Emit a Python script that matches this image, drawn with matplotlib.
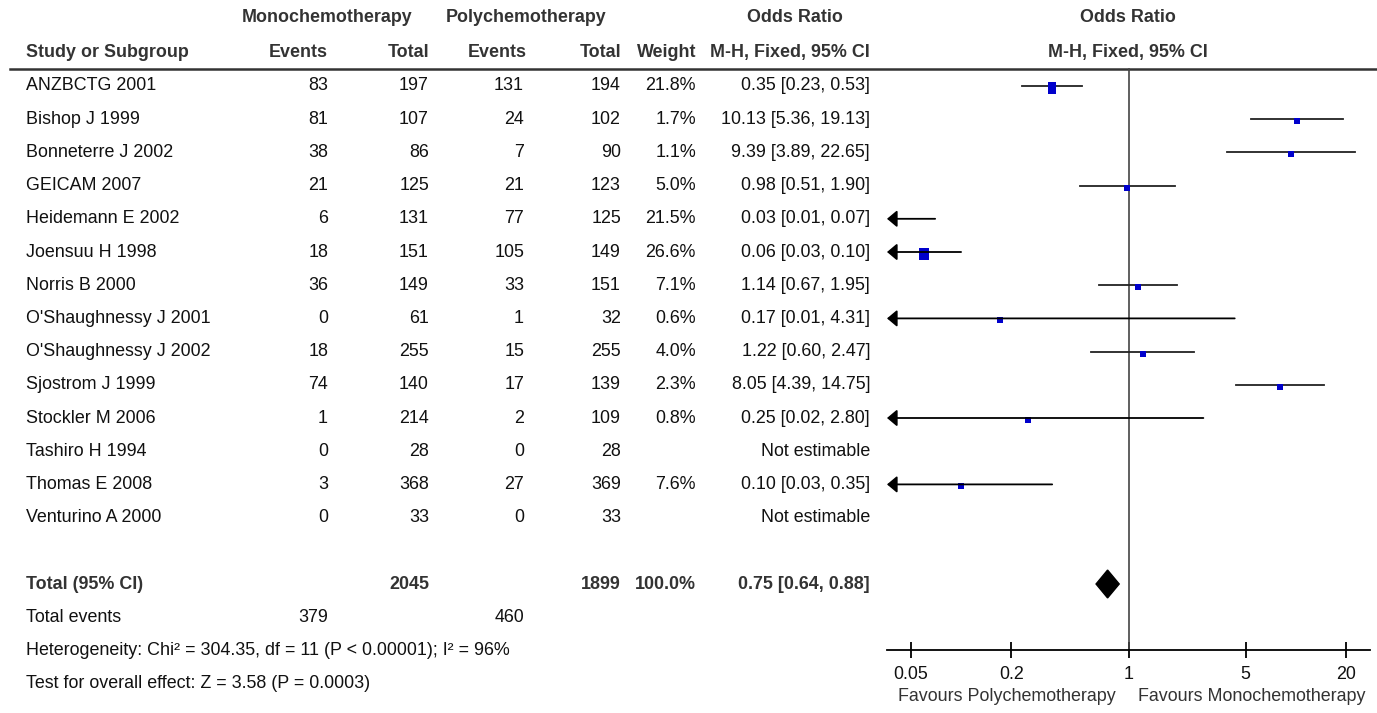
import numpy as np
import matplotlib.pyplot as plt
from matplotlib.path import Path

plt.rcParams['font.family'] = ['Liberation Sans', 'DejaVu Sans']

studies = ["ANZBCTG 2001", "Bishop J 1999", "Bonneterre J 2002", "GEICAM 2007",
           "Heidemann E 2002", "Joensuu H 1998", "Norris B 2000",
           "O'Shaughnessy J 2001", "O'Shaughnessy J 2002", "Sjostrom J 1999",
           "Stockler M 2006", "Tashiro H 1994", "Thomas E 2008", "Venturino A 2000"]
mono_events = [83, 81, 38, 21, 6, 18, 36, 0, 18, 74, 1, 0, 3, 0]
mono_total = [197, 107, 86, 125, 131, 151, 149, 61, 255, 140, 214, 28, 368, 33]
poly_events = [131, 24, 7, 21, 77, 105, 33, 1, 15, 17, 2, 0, 27, 0]
poly_total = [194, 102, 90, 123, 125, 149, 151, 32, 255, 139, 109, 28, 369, 33]
weight = [21.8, 1.7, 1.1, 5.0, 21.5, 26.6, 7.1, 0.6, 4.0, 2.3, 0.8, None, 7.6, None]
odds = [0.35, 10.13, 9.39, 0.98, 0.03, 0.06, 1.14, 0.17, 1.22, 8.05, 0.25, None, 0.10, None]
ci_low = [0.23, 5.36, 3.89, 0.51, 0.01, 0.03, 0.67, 0.01, 0.60, 4.39, 0.02, None, 0.03, None]
ci_high = [0.53, 19.13, 22.65, 1.90, 0.07, 0.10, 1.95, 4.31, 2.47, 14.75, 2.80, None, 0.35, None]

total_mono = 2045
total_poly = 1899
total_events_mono = 379
total_events_poly = 460
total_or = 0.75
total_lo = 0.64
total_hi = 0.88
heterogeneity = "Heterogeneity: Chi\u00b2 = 304.35, df = 11 (P < 0.00001); I\u00b2 = 96%"
overall = "Test for overall effect: Z = 3.58 (P = 0.0003)"
ticks = [0.05, 0.2, 1, 5, 20]
tick_labels = ["0.05", "0.2", "1", "5", "20"]

W, H = 1377, 713
fig = plt.figure(figsize=(W / 100, H / 100), dpi=100)

# row units: row 0 at pixel 86, step 33.2 px
top = -86 / 33.2
bottom = (H - 86) / 33.2

ax = fig.add_axes([0, 0, 1, 1])
ax.set_xlim(0, W)
ax.set_ylim(bottom, top)
ax.axis('off')

fs = 12.9
hdr = dict(fontsize=fs, fontweight='bold', color='#333333', va='center')
txt = dict(fontsize=fs, color='#111111', va='center')

# column anchors (pixels)
x_name = 26
x_me, x_mt, x_pe, x_pt, x_w, x_or = 328, 429, 524, 621, 696, 870

ax.text(327, -2.05, "Monochemotherapy", ha='center', **hdr)
ax.text(526, -2.05, "Polychemotherapy", ha='center', **hdr)
ax.text(795, -2.05, "Odds Ratio", ha='center', **hdr)
ax.text(1128, -2.05, "Odds Ratio", ha='center', **hdr)
ax.text(x_name, -1.02, "Study or Subgroup", ha='left', **hdr)
ax.text(x_me, -1.02, "Events", ha='right', **hdr)
ax.text(x_mt, -1.02, "Total", ha='right', **hdr)
ax.text(x_pe + 3, -1.02, "Events", ha='right', **hdr)
ax.text(x_pt, -1.02, "Total", ha='right', **hdr)
ax.text(x_w, -1.02, "Weight", ha='right', **hdr)
ax.text(x_or, -1.02, "M-H, Fixed, 95% CI", ha='right', **hdr)
ax.text(1128, -1.02, "M-H, Fixed, 95% CI", ha='center', **hdr)
ax.plot([10, W], [-0.51, -0.51], color='#333333', lw=1.8)

for i, name in enumerate(studies):
    ax.text(x_name, i, name, ha='left', **txt)
    ax.text(x_me, i, str(mono_events[i]), ha='right', **txt)
    ax.text(x_mt, i, str(mono_total[i]), ha='right', **txt)
    ax.text(x_pe, i, str(poly_events[i]), ha='right', **txt)
    ax.text(x_pt, i, str(poly_total[i]), ha='right', **txt)
    if odds[i] is None:
        ax.text(x_or, i, "Not estimable", ha='right', **txt)
    else:
        ax.text(x_w, i, "%.1f%%" % weight[i], ha='right', **txt)
        ax.text(x_or, i, "%.2f [%.2f, %.2f]" % (odds[i], ci_low[i], ci_high[i]), ha='right', **txt)

n = len(studies)
ax.text(x_name, n + 1, "Total (95% CI)", ha='left', **hdr)
ax.text(x_mt, n + 1, str(total_mono), ha='right', **hdr)
ax.text(x_pt, n + 1, str(total_poly), ha='right', **hdr)
ax.text(x_w, n + 1, "100.0%", ha='right', **hdr)
ax.text(x_or, n + 1, "%.2f [%.2f, %.2f]" % (total_or, total_lo, total_hi), ha='right', **hdr)
ax.text(x_name, n + 2, "Total events", ha='left', **txt)
ax.text(x_me, n + 2, str(total_events_mono), ha='right', **txt)
ax.text(x_pe, n + 2, str(total_events_poly), ha='right', **txt)
ax.text(x_name, n + 3, heterogeneity, ha='left', **txt)
ax.text(x_name, n + 4, overall, ha='left', **txt)

# forest plot
x0, x1 = 887, 1370
fx = fig.add_axes([x0 / W, 0, (x1 - x0) / W, 1])
fx.set_xscale('log')
lim = 27.7
fx.set_xlim(1 / lim, lim)
fx.set_ylim(bottom, top)
fx.patch.set_alpha(0)
for s in ['top', 'left', 'right']:
    fx.spines[s].set_visible(False)
fx.spines['bottom'].set_position(('data', n + 3))
fx.spines['bottom'].set_linewidth(1.3)
fx.set_yticks([])
fx.set_xticks(ticks)
fx.set_xticklabels(tick_labels)
fx.xaxis.set_minor_locator(plt.NullLocator())
fx.tick_params(axis='x', direction='inout', length=12, width=1.3, labelsize=fs,
               pad=5, labelcolor='#111111')

fx.plot([1, 1], [-0.51, n + 3], color='#444444', lw=1.2)

rect = Path([(-0.75, -1), (0.75, -1), (0.75, 1), (-0.75, 1), (-0.75, -1)],
            [Path.MOVETO, Path.LINETO, Path.LINETO, Path.LINETO, Path.CLOSEPOLY])
xmin = 1 / lim
for i in range(n):
    if odds[i] is None:
        continue
    lo, hi = ci_low[i], ci_high[i]
    if lo < xmin:
        fx.annotate('', xy=(xmin, i), xytext=(hi, i),
                    arrowprops=dict(arrowstyle='-|>,head_length=0.5,head_width=0.42',
                                    color='black', lw=1.3, shrinkA=0, shrinkB=0,
                                    mutation_scale=12))
    else:
        fx.plot([lo, hi], [i, i], color='#222222', lw=1.3)
    if odds[i] >= xmin:
        size = max(3.7, 1.35 * np.sqrt(weight[i])) * 1.3
        fx.plot(odds[i], i + 0.06, marker=rect, markersize=size, color='#0000CC', mew=0)

fx.fill([total_lo, total_or, total_hi, total_or],
        [n + 1, n + 1 - 0.42, n + 1, n + 1 + 0.42], color='black')

fx.annotate("Favours Polychemotherapy", xy=(1, n + 4.4), xytext=(-13, 0),
            textcoords='offset pixels', ha='right', va='center',
            fontsize=fs, color='#333333')
fx.annotate("Favours Monochemotherapy", xy=(1, n + 4.4), xytext=(10, 0),
            textcoords='offset pixels', ha='left', va='center',
            fontsize=fs, color='#333333')

fig.savefig('out.png', dpi=100)
